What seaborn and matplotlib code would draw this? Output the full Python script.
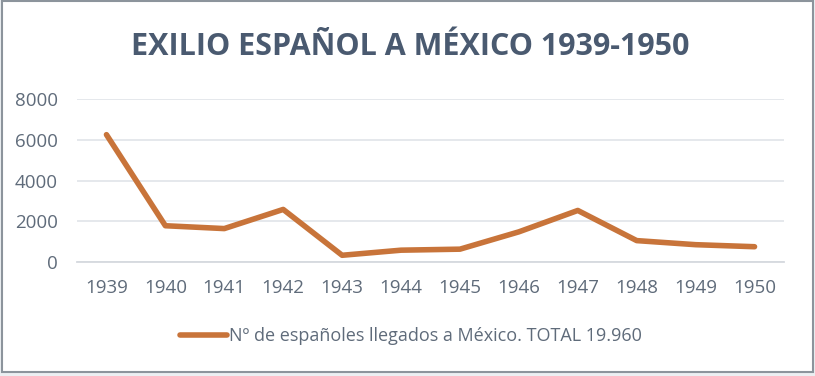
import matplotlib
matplotlib.use("Agg")
import matplotlib.pyplot as plt
import seaborn as sns
import pandas as pd
from matplotlib.patches import Rectangle

# data
years = ["1939", "1940", "1941", "1942", "1943", "1944",
         "1945", "1946", "1947", "1948", "1949", "1950"]
arrivals = [6250, 1780, 1640, 2580, 330, 580, 630, 1480, 2530, 1050, 850, 750]
series_name = "Nº de españoles llegados a México. TOTAL 19.960"
title_text = "EXILIO ESPAÑOL A MÉXICO 1939-1950"

df = pd.DataFrame({"year": years, "n": arrivals})

sns.set_theme(style="white")
plt.rcParams['font.family'] = ['Open Sans', 'DejaVu Sans']

text_col = "#5f6b7a"
title_col = "#4a5a70"
line_col = "#c8743a"
grid_col = "#e3e6ea"

fig = plt.figure(figsize=(8.15, 3.76), dpi=100)
fig.patch.set_facecolor("#eceff2")
# white chart area with gray frame, kept behind the axes
frame = Rectangle((1.5 / 815, 1 - 372 / 376), 811 / 815, 371 / 376,
                  transform=fig.transFigure, facecolor="white",
                  edgecolor="#8c949c", linewidth=1.5, zorder=-10)
fig.patches.append(frame)

ax = fig.add_axes([77 / 815, 1 - 262 / 376, 707 / 815, 163 / 376])
ax.set_facecolor("none")
sns.lineplot(data=df, x="year", y="n", ax=ax, color=line_col, linewidth=4,
             sort=False, label=series_name, solid_capstyle="round", zorder=3)

ax.set_xlim(-0.5, len(years) - 0.5)
ax.set_ylim(0, 8000)
ax.set_yticks([0, 2000, 4000, 6000, 8000])
ax.yaxis.grid(True, color=grid_col, linewidth=1.3)
ax.set_axisbelow(True)
for s in ["top", "right", "left"]:
    ax.spines[s].set_visible(False)
ax.spines["bottom"].set_color("#d5d9de")
ax.spines["bottom"].set_linewidth(1.3)

ax.set_xticks(range(len(years)))
ax.set_xticklabels(years)
ax.set_xticks([i - 0.5 for i in range(len(years) + 1)], minor=True)
ax.tick_params(axis="x", which="major", length=0, pad=12, labelsize=13.5, labelcolor=text_col)
ax.tick_params(axis="x", which="minor", length=5, width=1.2, color="#d5d9de", direction="out")
ax.tick_params(axis="y", length=0, pad=14, labelsize=13.5, labelcolor=text_col)
ax.set_xlabel("")
ax.set_ylabel("")

leg = ax.legend(loc="center", bbox_to_anchor=(411 / 815, 1 - 336 / 376),
                bbox_transform=fig.transFigure, frameon=False, fontsize=13,
                handlelength=2.6, handletextpad=0.1, labelcolor=text_col)

fig.text(410 / 815, 1 - 47 / 376, title_text, ha="center", va="center",
         fontsize=22, fontweight="bold", color=title_col)

fig.savefig("out.png", dpi=100, facecolor=fig.get_facecolor())
